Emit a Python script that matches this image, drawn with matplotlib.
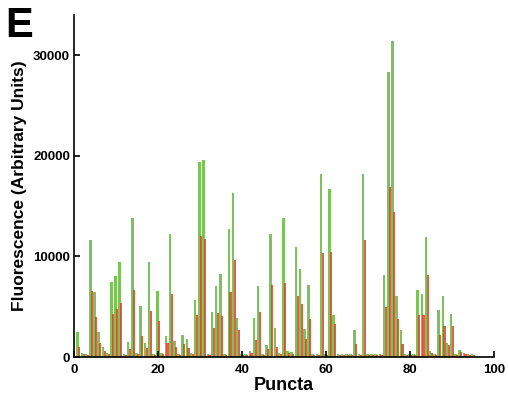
import numpy as np
import matplotlib
matplotlib.use("Agg")
import matplotlib.pyplot as plt

plt.rcParams['font.family'] = ['Liberation Sans', 'DejaVu Sans']
plt.rcParams['font.weight'] = 'bold'

# puncta 1..95, green and red fluorescence
green = [2500, 400, 300, 11600, 6500, 2500, 1000, 400, 7500, 8100,
         9500, 300, 1500, 13800, 400, 5100, 1400, 9500, 300, 6600,
         400, 2100, 12200, 1600, 300, 2200, 1850, 400, 5700, 19400,
         19600, 300, 4500, 7100, 8300, 300, 12700, 16300, 3900, 300,
         300, 600, 3900, 7100, 300, 1200, 12200, 2900, 400, 13800,
         600, 500, 10900, 8800, 2800, 7200, 300, 300, 18200, 300,
         16700, 4200, 300, 300, 300, 300, 2700, 300, 18200, 300,
         300, 300, 300, 8200, 28300, 31400, 6100, 2700, 300, 300,
         300, 6700, 6300, 11900, 600, 300, 4700, 6100, 1400, 4300,
         300, 700, 400, 300, 300]
red = [1000, 300, 200, 6600, 4000, 1400, 600, 300, 4300, 4800,
       5400, 200, 800, 6700, 300, 2100, 900, 4600, 200, 3600,
       300, 1400, 6300, 1000, 200, 1350, 900, 300, 4200, 12000,
       11700, 200, 2900, 4400, 4100, 200, 6500, 9700, 2700, 200,
       200, 400, 1750, 4500, 200, 800, 7200, 1000, 300, 7400,
       400, 300, 6100, 5300, 1850, 3800, 200, 200, 10300, 200,
       10400, 3300, 200, 200, 200, 200, 1350, 200, 11600, 200,
       200, 200, 200, 5000, 16900, 14400, 3800, 1350, 200, 200,
       200, 4200, 4200, 8200, 400, 200, 2200, 3100, 1200, 3100,
       200, 500, 300, 200, 200]

puncta = np.arange(1, len(green) + 1)

fig = plt.figure(figsize=(5.08, 4.04), dpi=100)
ax = fig.add_axes([0.146, 0.116, 0.826, 0.847])

ax.bar(puncta - 0.15, green, width=0.6, color='#7cc35a', linewidth=0)
ax.bar(puncta + 0.25, red, width=0.5, color='#df4426', alpha=0.85, linewidth=0)

ax.set_xlim(0, 100)
ax.set_ylim(0, 34000)
ax.set_xticks([0, 20, 40, 60, 80, 100])
ax.set_yticks([0, 10000, 20000, 30000])
ax.spines['top'].set_visible(False)
ax.spines['right'].set_visible(False)
ax.spines['left'].set_linewidth(1.2)
ax.spines['bottom'].set_linewidth(1.2)
ax.tick_params(direction='in', length=4, width=1.2, labelsize=9.5, pad=3)
ax.tick_params(axis='x', pad=5)
for lab in ax.get_xticklabels() + ax.get_yticklabels():
    lab.set_fontweight('bold')

ax.set_xlabel('Puncta', fontsize=13, fontweight='bold', labelpad=1)
ax.set_ylabel('Fluorescence (Arbitrary Units)', fontsize=12.5, fontweight='bold', labelpad=4)

fig.text(0.01, 0.985, 'E', fontsize=30, fontweight='bold', va='top', ha='left')

fig.savefig('out.png', dpi=100)
